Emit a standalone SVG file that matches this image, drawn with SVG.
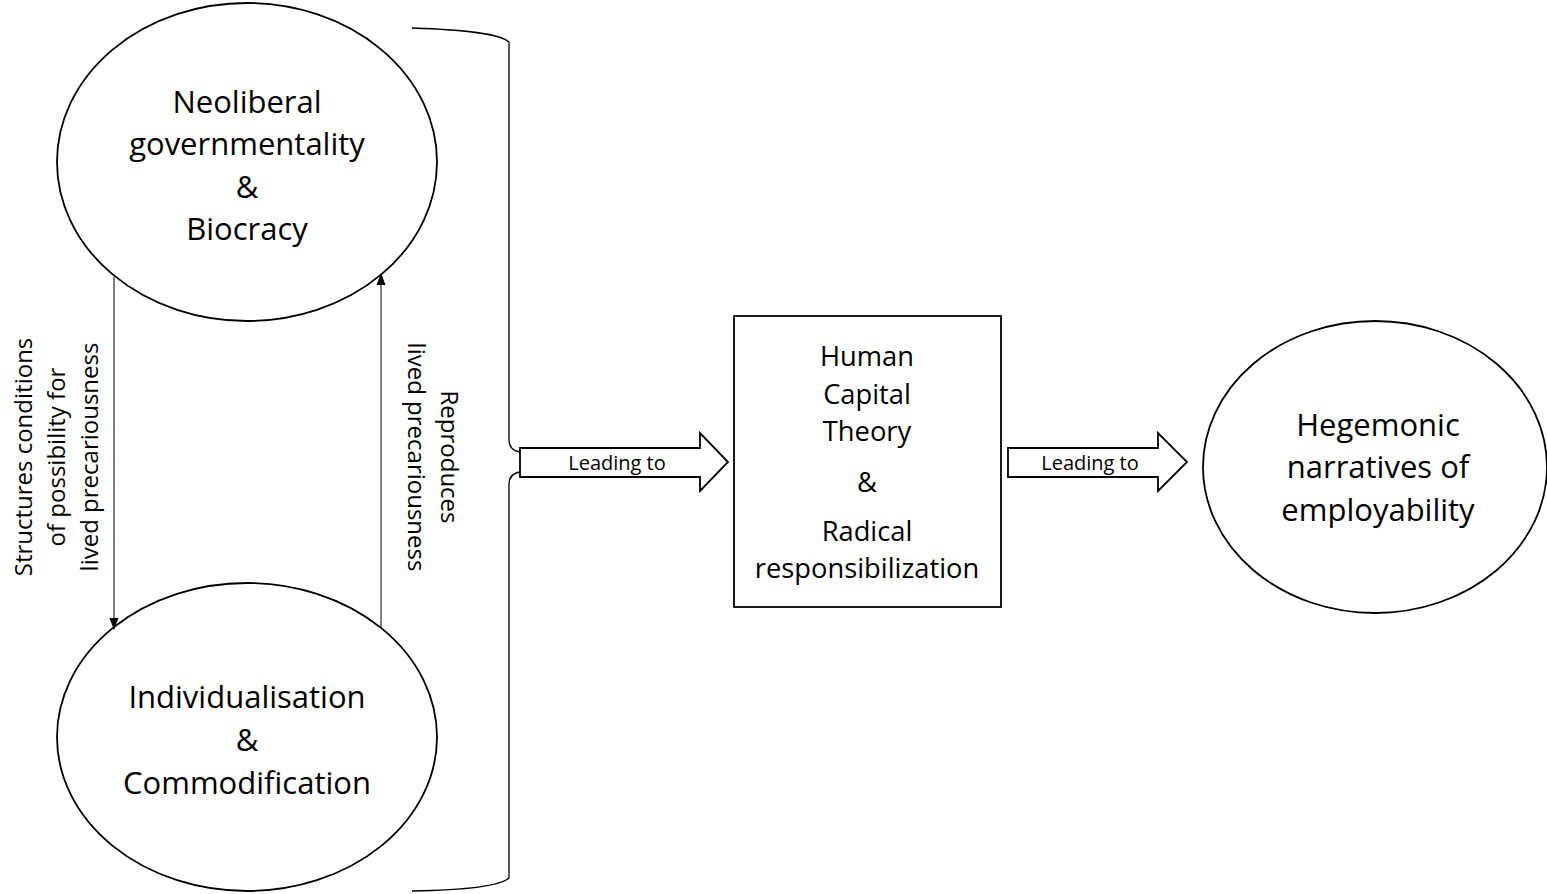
<svg xmlns="http://www.w3.org/2000/svg" width="1547" height="894" viewBox="0 0 1547 894">
  <style>
    .shape { fill: #fff; stroke: #000; stroke-width: 1.8; }
    .line { fill: none; stroke: #000; stroke-width: 1; }
    .bracket { fill: none; stroke: #000; stroke-width: 1.3; }
    .big { font-family: "Open Sans", "Liberation Sans", sans-serif; font-size: 31px; fill: #000; text-anchor: middle; }
    .mid { font-family: "Open Sans", "Liberation Sans", sans-serif; font-size: 27.3px; fill: #000; text-anchor: middle; }
    .side { font-family: "Open Sans", "Liberation Sans", sans-serif; font-size: 24px; fill: #000; text-anchor: middle; }
    .small { font-family: "Open Sans", "Liberation Sans", sans-serif; font-size: 20px; fill: #000; text-anchor: middle; }
  </style>
  <defs>
    <marker id="tri" markerWidth="12" markerHeight="12" refX="11" refY="6" orient="auto" markerUnits="userSpaceOnUse">
      <path d="M0,1.5 L12,6 L0,10.5 Z" fill="#000"/>
    </marker>
  </defs>
  <rect width="1547" height="894" fill="#fff"/>

  <g id="neoliberal">
    <ellipse class="shape" cx="247" cy="162" rx="190" ry="159"/>
    <text class="big" x="247" y="113">Neoliberal</text>
    <text class="big" x="247" y="155">governmentality</text>
    <text class="big" x="247" y="198">&amp;</text>
    <text class="big" x="247" y="240">Biocracy</text>
  </g>

  <g id="individualisation">
    <ellipse class="shape" cx="247" cy="737" rx="190" ry="154"/>
    <text class="big" x="247" y="708">Individualisation</text>
    <text class="big" x="247" y="751">&amp;</text>
    <text class="big" x="247" y="794">Commodification</text>
  </g>

  <g id="human-capital">
    <rect class="shape" x="734" y="316" width="267" height="291"/>
    <text class="mid" x="867" y="366">Human</text>
    <text class="mid" x="867" y="404">Capital</text>
    <text class="mid" x="867" y="441">Theory</text>
    <text class="mid" x="867" y="492">&amp;</text>
    <text class="mid" x="867" y="541">Radical</text>
    <text class="mid" x="867" y="578">responsibilization</text>
  </g>

  <g id="hegemonic">
    <ellipse class="shape" cx="1375" cy="467" rx="172" ry="146"/>
    <text class="big" x="1378" y="436">Hegemonic</text>
    <text class="big" x="1378" y="478">narratives of</text>
    <text class="big" x="1378" y="521">employability</text>
  </g>

  <g id="connectors">
    <!-- cycle between the two ellipses -->
    <line class="line" x1="114" y1="277" x2="114" y2="629" marker-end="url(#tri)"/>
    <line class="line" x1="381" y1="627" x2="381" y2="274" marker-end="url(#tri)"/>
    <g transform="translate(0 457) rotate(-90)">
      <text class="side" x="0" y="32">Structures conditions</text>
      <text class="side" x="0" y="65">of possibility for</text>
      <text class="side" x="0" y="98">lived precariousness</text>
    </g>
    <g transform="translate(457 457) rotate(90)">
      <text class="side" x="0" y="16">Reproduces</text>
      <text class="side" x="0" y="49">lived precariousness</text>
    </g>

    <!-- brace grouping the ellipses -->
    <path class="bracket" d="M412,28 C470,30 500,34 509,42 L509,440 C509,448 514,451 520,452"/>
    <path class="bracket" d="M520,472 C514,473 509,476 509,484 L509,878 C500,886 470,890 412,891"/>

    <!-- block arrows -->
    <path class="shape" d="M520,448 L700,448 L700,433 L728,462 L700,491 L700,477 L520,477 Z"/>
    <text class="small" x="617" y="470">Leading to</text>
    <path class="shape" d="M1008,448 L1158,448 L1158,433 L1187,462 L1158,491 L1158,477 L1008,477 Z"/>
    <text class="small" x="1090" y="470">Leading to</text>
  </g>
</svg>
